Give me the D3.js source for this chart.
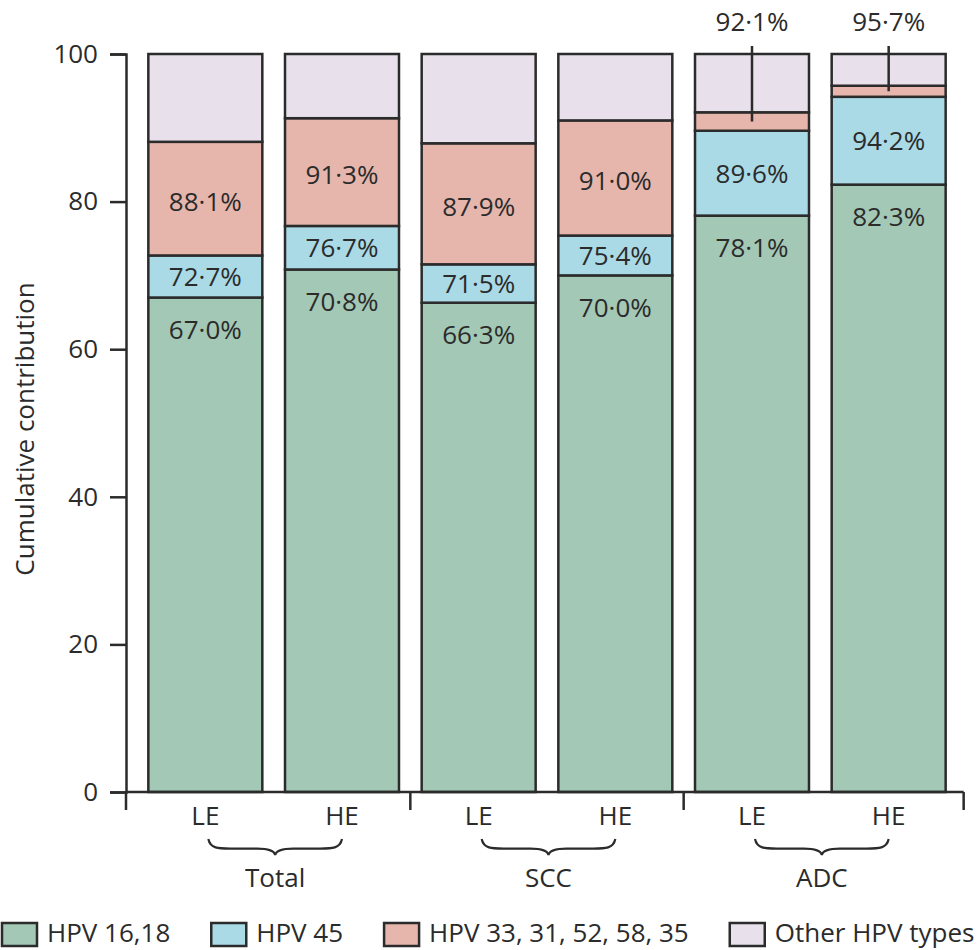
<!DOCTYPE html>
<html>
<head>
<meta charset="utf-8">
<script src="https://cdn.jsdelivr.net/npm/d3@7"></script>
<style>
  body { margin: 0; background: #fff; }
  text { font-family: "Open Sans", sans-serif; fill: #2b2b2b; }
</style>
</head>
<body>
<svg class="chart"></svg>
<script>
const width = 979;
const height = 950;

const groups = ["Total", "SCC", "ADC"];
const exposures = ["LE", "HE"];
const seriesNames = ["HPV 16,18", "HPV 45", "HPV 33, 31, 52, 58, 35", "Other HPV types"];
// cumulative contribution (%), bars in order Total LE, Total HE, SCC LE, SCC HE, ADC LE, ADC HE
const hpv1618 = [67.0, 70.8, 66.3, 70.0, 78.1, 82.3];
const hpv45 = [72.7, 76.7, 71.5, 75.4, 89.6, 94.2];
const hpv33to35 = [88.1, 91.3, 87.9, 91.0, 92.1, 95.7];
const otherTypes = [100, 100, 100, 100, 100, 100];
const yTicks = [0, 20, 40, 60, 80, 100];

const colors = ["#a3c8b5", "#a9dae6", "#e6b6ad", "#e8e1eb"];
const ink = "#2b2b2b";

const cumulative = [hpv1618, hpv45, hpv33to35, otherTypes];
const bars = groups.flatMap(g => exposures.map(e => ({ group: g, exp: e, key: g + " " + e })));

const svg = d3.select('.chart').attr('width', width).attr('height', height);

const y = d3.scaleLinear().domain([0, 100]).range([792, 54]);
const x = d3.scaleBand()
  .domain(bars.map(d => d.key))
  .range([137, 957])
  .paddingInner(0.166)
  .paddingOuter(0.083);
const axisX = 126;

const fmt = v => d3.format(".1f")(v).replace(".", "\u00b7") + "%";

// segments
const segs = [];
bars.forEach((b, i) => {
  cumulative.forEach((s, k) => {
    segs.push({
      bar: b, k: k,
      y0: k === 0 ? 0 : cumulative[k - 1][i],
      y1: s[i]
    });
  });
});

svg.append('g').selectAll('rect')
  .data(segs)
  .enter().append('rect')
  .attr('x', d => x(d.bar.key))
  .attr('width', x.bandwidth())
  .attr('y', d => y(d.y1))
  .attr('height', d => y(d.y0) - y(d.y1))
  .attr('fill', d => colors[d.k])
  .attr('stroke', ink)
  .attr('stroke-width', 2.5);

// segment labels
const labelled = segs.filter(d => d.k < 3);
const labels = svg.append('g');
labelled.forEach(d => {
  const cx = x(d.bar.key) + x.bandwidth() / 2;
  const top = y(d.y1), bot = y(d.y0);
  let cy;
  if (d.k === 0) cy = top + 32;
  else if (bot - top < 25) {
    // too thin: label above the bar with a leader line
    cy = y(100) - 32;
    labels.append('line')
      .attr('x1', cx).attr('x2', cx)
      .attr('y1', y(100) - 8).attr('y2', (top + bot) / 2)
      .attr('stroke', ink).attr('stroke-width', 2.5);
  }
  else if (d.k === 1) cy = (top + bot) / 2;
  else cy = (top + bot) / 2 + 3;
  labels.append('text')
    .attr('x', cx).attr('y', cy).attr('dy', '0.36em')
    .attr('text-anchor', 'middle')
    .style('font-size', '26px')
    .text(fmt(d.y1));
});

// y axis
const yAxis = svg.append('g')
  .attr('transform', `translate(${axisX},0)`)
  .call(d3.axisLeft(y).tickValues(yTicks).tickSize(16).tickPadding(12));
yAxis.selectAll('path, line').attr('stroke', ink).attr('stroke-width', 2.5);
yAxis.selectAll('text').style('font-size', '26px').attr('fill', ink)
  .style('font-family', '"Open Sans", sans-serif');

svg.append('text')
  .attr('transform', `translate(34,${(y(0) + y(100)) / 2 + 6}) rotate(-90)`)
  .attr('text-anchor', 'middle')
  .style('font-size', '26px')
  .text('Cumulative contribution');

// x axis with group dividers
const lastRight = x(bars[bars.length - 1].key) + x.bandwidth();
const dividers = [axisX];
groups.forEach((g, gi) => {
  if (gi < groups.length - 1) {
    const he = x(g + " HE") + x.bandwidth();
    const le = x(groups[gi + 1] + " LE");
    dividers.push((he + le) / 2);
  }
});
dividers.push(lastRight + 18);

svg.append('line')
  .attr('x1', axisX).attr('x2', dividers[dividers.length - 1])
  .attr('y1', y(0)).attr('y2', y(0))
  .attr('stroke', ink).attr('stroke-width', 2.5);
svg.append('g').selectAll('line')
  .data(dividers)
  .enter().append('line')
  .attr('x1', d => d).attr('x2', d => d)
  .attr('y1', y(0)).attr('y2', y(0) + 18)
  .attr('stroke', ink).attr('stroke-width', 2.5);

svg.append('g').selectAll('text')
  .data(bars)
  .enter().append('text')
  .attr('x', d => x(d.key) + x.bandwidth() / 2)
  .attr('y', 825)
  .attr('text-anchor', 'middle')
  .style('font-size', '26px')
  .text(d => d.exp);

// braces + group names
function brace(x1, x2, yTop, h) {
  const m = (x1 + x2) / 2, yf = yTop + h * 0.6, yt = yTop + h;
  return `M${x1},${yTop} C${x1 + 2},${yf} ${x1 + 10},${yf} ${x1 + 22},${yf}` +
    ` L${m - 18},${yf} C${m - 6},${yf} ${m - 1},${yf + 2} ${m},${yt}` +
    ` C${m + 1},${yf + 2} ${m + 6},${yf} ${m + 18},${yf}` +
    ` L${x2 - 22},${yf} C${x2 - 10},${yf} ${x2 - 2},${yf} ${x2},${yTop}`;
}
groups.forEach(g => {
  const a = x(g + " LE") + x.bandwidth() / 2 + 3;
  const b = x(g + " HE") + x.bandwidth() / 2;
  svg.append('path')
    .attr('d', brace(a, b, 839, 16))
    .attr('fill', 'none')
    .attr('stroke', ink)
    .attr('stroke-width', 2.2);
  svg.append('text')
    .attr('x', (a + b) / 2)
    .attr('y', 887)
    .attr('text-anchor', 'middle')
    .style('font-size', '26px')
    .text(g);
});

// legend
const legend = svg.append('g');
let lx = 2;
seriesNames.forEach((name, k) => {
  legend.append('rect')
    .attr('x', lx).attr('y', 923)
    .attr('width', 35).attr('height', 23)
    .attr('fill', colors[k])
    .attr('stroke', ink)
    .attr('stroke-width', 2.5);
  const t = legend.append('text')
    .attr('x', lx + 45).attr('y', 942)
    .style('font-size', '26px')
    .text(name);
  lx = lx + 45 + t.node().getComputedTextLength() + 41;
});
</script>
</body>
</html>
